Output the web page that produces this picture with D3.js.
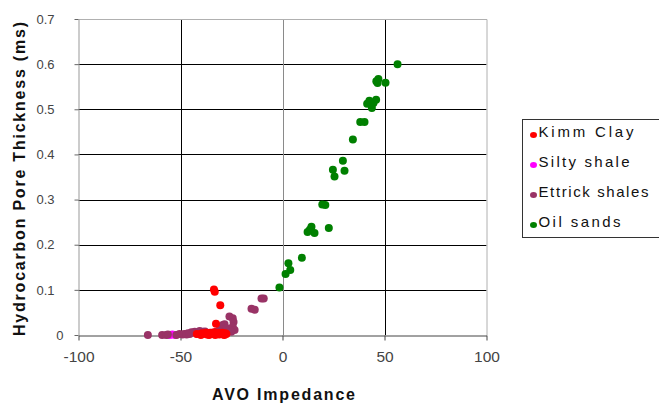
<!DOCTYPE html>
<html>
<head>
<meta charset="utf-8">
<script src="https://cdn.jsdelivr.net/npm/d3@7"></script>
<style>
  html, body { margin: 0; padding: 0; background: #fff; }
  svg { display: block; font-family: "Liberation Sans", Arial, sans-serif; }
</style>
</head>
<body>
<svg id="chart" width="659" height="403"></svg>
<script>
// ---- Data ----
const seriesNames = ["Kimm Clay", "Silty shale", "Ettrick shales", "Oil sands"];

const kimmX = [-33.6, -33.2, -30.5, -32.6, -42, -40, -38.5, -37, -36, -35, -34, -33, -32, -31, -30, -29, -28.5, -27.5, -29.5, -37.5, -35.5, -31.5, -28, -39.5, -33.5];
const kimmY = [0.101, 0.096, 0.066, 0.025, 0.002, 0, 0.003, 0.001, 0, 0.002, 0.004, 0, 0.002, 0.001, 0.003, 0.001, 0, 0.002, 0.005, 0.005, 0.005, 0.005, 0.004, 0.004, 0.006];

const siltyX = [-55.4, -54, -52.5];
const siltyY = [0, 0.001, 0];

const ettrickX = [-66, -59, -57, -56.2, -52, -50.5, -48, -46.3, -44.6, -43, -40.6, -39, -36.5, -34.8,
                  -49, -47, -45.5, -42, -41, -38,
                  -32.5, -30.9, -29.3, -28.4, -27.6, -26, -24.4, -24, -24.4, -23.5, -25.1,
                  -15.2, -13.6, -10.3, -9.2];
const ettrickY = [0, 0, 0, 0.001, 0, 0.002, 0.002, 0.004, 0.006, 0.007, 0.009, 0.007, 0.004, 0.005,
                  0.001, 0.001, 0.002, 0.003, 0.004, 0.008,
                  0.007, 0.011, 0.022, 0.024, 0.015, 0.041, 0.037, 0.029, 0.018, 0.011, 0.007,
                  0.058, 0.056, 0.081, 0.081];

const oilX = [56.4, 47, 46.6, 50.5, 46, 45.9, 42.6, 41.5, 43.8, 44.6, 38.1, 40.2, 34.5, 29.6,
              24.7, 30.4, 25.5, 19.5, 21, 13.4, 14.2, 15.7, 12.3, 22.7, 9.5, 2.9, 3.8, 1.5, -1.5];
const oilY = [0.600, 0.567, 0.558, 0.559, 0.562, 0.521, 0.519, 0.512, 0.503, 0.514, 0.472, 0.472, 0.433, 0.386,
              0.366, 0.364, 0.351, 0.289, 0.288, 0.233, 0.240, 0.226, 0.228, 0.237, 0.171, 0.159, 0.144, 0.135, 0.105];

const xTicks = [-100, -50, 0, 50, 100];
const yTicks = [0, 0.1, 0.2, 0.3, 0.4, 0.5, 0.6, 0.7];
const xTickLabels = ["-100", "-50", "0", "50", "100"];
const yTickLabels = ["0", "0.1", "0.2", "0.3", "0.4", "0.5", "0.6", "0.7"];
const xTitle = "AVO Impedance";
const yTitle = "Hydrocarbon Pore Thickness (ms)";

const colors = ["#ff0000", "#ff00ff", "#993366", "#008000"];

// ---- Layout ----
const svg = d3.select("#chart");
const x = d3.scaleLinear().domain([-100, 100]).range([78.5, 486.5]);
const y = d3.scaleLinear().domain([0, 0.7]).range([335, 19]);

// horizontal gridlines
svg.append("g").selectAll("line").data(yTicks.filter(v => v > 0 && v < 0.7)).join("line")
  .attr("x1", x(-100)).attr("x2", x(100))
  .attr("y1", d => Math.round(y(d)) + 0.5).attr("y2", d => Math.round(y(d)) + 0.5)
  .attr("stroke", "#000").attr("stroke-width", 1);

// vertical gridlines
svg.append("g").selectAll("line").data(xTicks.filter(v => v > -100 && v < 100)).join("line")
  .attr("x1", d => Math.round(x(d)) + 0.5).attr("x2", d => Math.round(x(d)) + 0.5)
  .attr("y1", y(0.7)).attr("y2", y(0))
  .attr("stroke", d => d === 0 ? "#8a8a8a" : "#000").attr("stroke-width", 1);

// plot border (top / right gray)
svg.append("path")
  .attr("d", `M${x(-100)},${y(0.7)+0.5} H${x(100)+0.5} V${y(0)}`)
  .attr("fill", "none").attr("stroke", "#b0b0b0").attr("stroke-width", 1);

// axes
const xAxis = d3.axisBottom(x).tickValues(xTicks).tickFormat((d, i) => xTickLabels[i]).tickSize(5).tickSizeOuter(0).tickPadding(10);
const gx = svg.append("g").attr("transform", `translate(0,${y(0)+0.5})`).call(xAxis);
gx.select(".domain").attr("stroke", "#444");
gx.selectAll(".tick line").attr("stroke", "#444");
gx.selectAll(".tick text").attr("font-size", 15.5).attr("fill", "#444")
  .attr("font-family", "Liberation Sans, Arial, sans-serif");

const yAxis = d3.axisLeft(y).tickValues(yTicks).tickFormat((d, i) => yTickLabels[i]).tickSize(4).tickSizeOuter(0).tickPadding(20);
const gy = svg.append("g").attr("transform", `translate(${x(-100)},0)`).call(yAxis);
gy.select(".domain").attr("stroke", "#999");
gy.selectAll(".tick line").attr("stroke", "#666");
gy.selectAll(".tick text").attr("font-size", 13).attr("fill", "#444")
  .attr("font-family", "Liberation Sans, Arial, sans-serif")
  .attr("x", (d, i) => yTickLabels[i].length > 1 ? -24 : -15);

// points
const series = [
  { name: seriesNames[1], xs: siltyX, ys: siltyY, color: colors[1] },
  { name: seriesNames[2], xs: ettrickX, ys: ettrickY, color: colors[2] },
  { name: seriesNames[0], xs: kimmX, ys: kimmY, color: colors[0] },
  { name: seriesNames[3], xs: oilX, ys: oilY, color: colors[3] }
];
series.forEach(s => {
  svg.append("g").selectAll("circle")
    .data(s.xs.map((v, i) => [v, s.ys[i]])).join("circle")
    .attr("cx", d => x(d[0])).attr("cy", d => y(d[1]))
    .attr("r", 4).attr("fill", s.color);
});

// titles
svg.append("text").text(xTitle)
  .attr("x", 283.5).attr("y", 400).attr("text-anchor", "middle")
  .attr("font-weight", "bold").attr("font-size", 16).attr("fill", "#111")
  .attr("textLength", 143).attr("lengthAdjust", "spacing");

svg.append("text").text(yTitle)
  .attr("transform", "translate(25,179) rotate(-90)").attr("text-anchor", "middle")
  .attr("font-weight", "bold").attr("font-size", 16).attr("fill", "#111")
  .attr("textLength", 314).attr("lengthAdjust", "spacing");

// legend
const legend = svg.append("g");
legend.append("rect").attr("x", 522.5).attr("y", 119.5).attr("width", 160).attr("height", 118)
  .attr("fill", "#fff").attr("stroke", "#333");
const legendWidths = [95, 91, 110, 82];
seriesNames.forEach((n, i) => {
  const by = 137 + i * 30;
  legend.append("ellipse").attr("cx", 533.5).attr("cy", by - 2).attr("rx", 3.5).attr("ry", 3)
    .attr("fill", colors[i]);
  legend.append("text").text(n).attr("x", 538.5).attr("y", by)
    .attr("font-size", 15).attr("fill", "#111")
    .attr("textLength", legendWidths[i]).attr("lengthAdjust", "spacing");
});
</script>
</body>
</html>
